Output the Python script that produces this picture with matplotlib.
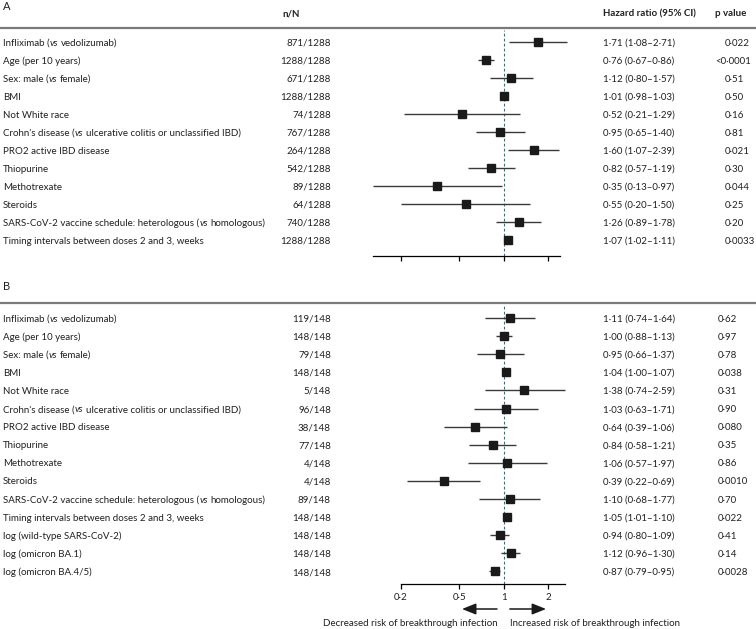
import numpy as np
import matplotlib
matplotlib.use("Agg")
import matplotlib.pyplot as plt
from matplotlib.transforms import blended_transform_factory, offset_copy
from matplotlib.font_manager import FontProperties

FAMILY = ['Liberation Sans Narrow', 'Lato', 'DejaVu Sans']
plt.rcParams['font.family'] = FAMILY

# panel A data
labels_a = ["Infliximab (vs vedolizumab)", "Age (per 10 years)", "Sex: male (vs female)", "BMI",
            "Not White race", "Crohn's disease (vs ulcerative colitis or unclassified IBD)",
            "PRO2 active IBD disease", "Thiopurine", "Methotrexate", "Steroids",
            "SARS-CoV-2 vaccine schedule: heterologous (vs homologous)",
            "Timing intervals between doses 2 and 3, weeks"]
n_a = ["871/1288", "1288/1288", "671/1288", "1288/1288", "74/1288", "767/1288", "264/1288",
       "542/1288", "89/1288", "64/1288", "740/1288", "1288/1288"]
hr_a = [1.71, 0.76, 1.12, 1.01, 0.52, 0.95, 1.60, 0.82, 0.35, 0.55, 1.26, 1.07]
lo_a = [1.08, 0.67, 0.80, 0.98, 0.21, 0.65, 1.07, 0.57, 0.13, 0.20, 0.89, 1.02]
hi_a = [2.71, 0.86, 1.57, 1.03, 1.29, 1.40, 2.39, 1.19, 0.97, 1.50, 1.78, 1.11]
p_a = ["0·022", "<0·0001", "0·51", "0·50", "0·16", "0·81", "0·021", "0·30", "0·044", "0·25",
       "0·20", "0·0033"]

# panel B data
labels_b = labels_a + ["log (wild-type SARS-CoV-2)", "log (omicron BA.1)", "log (omicron BA.4/5)"]
n_b = ["119/148", "148/148", "79/148", "148/148", "5/148", "96/148", "38/148", "77/148", "4/148",
       "4/148", "89/148", "148/148", "148/148", "148/148", "148/148"]
hr_b = [1.11, 1.00, 0.95, 1.04, 1.38, 1.03, 0.64, 0.84, 1.06, 0.39, 1.10, 1.05, 0.94, 1.12, 0.87]
lo_b = [0.74, 0.88, 0.66, 1.00, 0.74, 0.63, 0.39, 0.58, 0.57, 0.22, 0.68, 1.01, 0.80, 0.96, 0.79]
hi_b = [1.64, 1.13, 1.37, 1.07, 2.59, 1.71, 1.06, 1.21, 1.97, 0.69, 1.77, 1.10, 1.09, 1.30, 0.95]
p_b = ["0·62", "0·97", "0·78", "0·038", "0·31", "0·90", "0·080", "0·35", "0·86", "0·0010",
       "0·70", "0·022", "0·41", "0·14", "0·0028"]

ticks = [0.2, 0.5, 1, 2]
tick_labels = ["0·2", "0·5", "1", "2"]

W, H = 756, 629
fig = plt.figure(figsize=(W / 100, H / 100), dpi=100)
renderer = fig.canvas.get_renderer()
TXT = '#231f20'
FS = 7.0
BASE = -3.6  # baseline offset below the row centre, pixels


def fx(px):
    return px / W


def fy(py):
    return 1 - py / H


def fmt(v):
    return f"{v:.2f}".replace('.', '·')


def text_w(s, style='normal'):
    prop = FontProperties(family=FAMILY, size=FS, style=style)
    w, h, d = renderer.get_text_width_height_descent(s, prop, ismath=False)
    return w


SPACE = text_w("a a") - text_w("aa")


def row_text(ax, tr, x_px, i, s, ha='left', style='normal'):
    t = offset_copy(tr, fig=fig, x=0, y=BASE, units='dots')
    ax.text(fx(x_px), i, s, transform=t, fontsize=FS, color=TXT, va='baseline', ha=ha, fontstyle=style)


def draw_label(ax, tr, i, label):
    # "vs" is set in italics, the rest upright
    if "(vs " in label:
        pre, post = label.split("(vs ", 1)
        pre = pre + "("
        x = 3
        row_text(ax, tr, x, i, pre)
        x += text_w(pre) + 0.4
        row_text(ax, tr, x, i, "vs", style='italic')
        x += text_w("vs", 'italic') + SPACE
        row_text(ax, tr, x, i, post)
    else:
        row_text(ax, tr, 3, i, label)


def panel(top_px, row0, step, nrows, axis_px, labels, ns, hr, lo, hi, pv, pv_x, bounds, show_labels):
    # axes pixel box: x 340..590 ; log mapping decade = 147 px, 0.2 at 401
    x_left = 10 ** (np.log10(0.2) + (340 - 401) / 147)
    x_right = 10 ** (np.log10(0.2) + (590 - 401) / 147)
    ax = fig.add_axes([fx(340), fy(axis_px), fx(250), (axis_px - top_px) / H])
    ax.set_xscale('log')
    ax.set_xlim(x_left, x_right)
    y_top = (top_px - row0) / step
    y_bot = (axis_px - row0) / step
    ax.set_ylim(y_bot, y_top)
    y = np.arange(nrows)
    ax.hlines(y, lo, hi, color='#3a3a3a', lw=1.0)
    ax.plot(hr, y, 's', color='#1a1a1a', ms=5.8, zorder=3)
    ax.axvline(1, color='#3d6b78', lw=0.8, ls=(0, (2.5, 2)), zorder=1)
    for s in ['top', 'right', 'left']:
        ax.spines[s].set_visible(False)
    ax.spines['bottom'].set_bounds(*bounds)
    ax.spines['bottom'].set_linewidth(0.9)
    ax.set_yticks([])
    ax.set_xticks(ticks)
    ax.xaxis.set_minor_locator(matplotlib.ticker.NullLocator())
    ax.tick_params(axis='x', direction='out', length=3.5, width=0.9, colors='black',
                   labelsize=FS, labelcolor=TXT, pad=3)
    ax.set_xticklabels(tick_labels if show_labels else [''] * len(ticks))

    tr = blended_transform_factory(fig.transFigure, ax.transData)
    for i in range(nrows):
        draw_label(ax, tr, i, labels[i])
        row_text(ax, tr, 331, i, ns[i], ha='right')
        row_text(ax, tr, 603, i, f"{fmt(hr[i])} ({fmt(lo[i])}–{fmt(hi[i])})")
        px = pv_x - 10 if pv[i].startswith('<') else pv_x
        row_text(ax, tr, px, i, pv[i])
    return ax


# headers
fig.text(fx(3), fy(6), "A", fontsize=8, color=TXT, va='center', ha='left')
fig.text(fx(282), fy(14), "n/N", fontsize=FS, color=TXT, va='center', ha='left', fontweight='bold')
fig.text(fx(603), fy(14), "Hazard ratio (95% CI)", fontsize=FS, color=TXT, va='center', ha='left',
         fontweight='bold')
fig.text(fx(715), fy(14), "p value", fontsize=FS, color=TXT, va='center', ha='left', fontweight='bold')
fig.add_artist(plt.Line2D([0, 1], [fy(28), fy(28)], color='#7a7a7a', lw=1.6))

fig.text(fx(3), fy(286), "B", fontsize=8, color=TXT, va='center', ha='left')
fig.add_artist(plt.Line2D([0, 1], [fy(303), fy(303)], color='#7a7a7a', lw=1.6))

panel(30, 42, 18.0, len(labels_a), 256, labels_a, n_a, hr_a, lo_a, hi_a, p_a, 725, (0.129, 2.42), False)
ax_b = panel(305, 318, 18.1, len(labels_b), 584, labels_b, n_b, hr_b, lo_b, hi_b, p_b, 718, (0.2, 2.6), True)

# direction arrows under panel B
tr = blended_transform_factory(ax_b.transData, fig.transFigure)
arrow = dict(arrowstyle='-|>,head_length=0.6,head_width=0.24', color='#1a1a1a', lw=1.1,
             mutation_scale=14, shrinkA=0, shrinkB=0)
ax_b.annotate('', xy=(0.52, fy(609)), xytext=(0.90, fy(609)), xycoords=tr, textcoords=tr,
              arrowprops=arrow, annotation_clip=False)
ax_b.annotate('', xy=(1.94, fy(609)), xytext=(1.10, fy(609)), xycoords=tr, textcoords=tr,
              arrowprops=arrow, annotation_clip=False)
fig.text(fx(498), fy(623), "Decreased risk of breakthrough infection", fontsize=FS, color=TXT,
         va='center', ha='right')
fig.text(fx(510), fy(623), "Increased risk of breakthrough infection", fontsize=FS, color=TXT,
         va='center', ha='left')

fig.savefig("out.png", dpi=100)
